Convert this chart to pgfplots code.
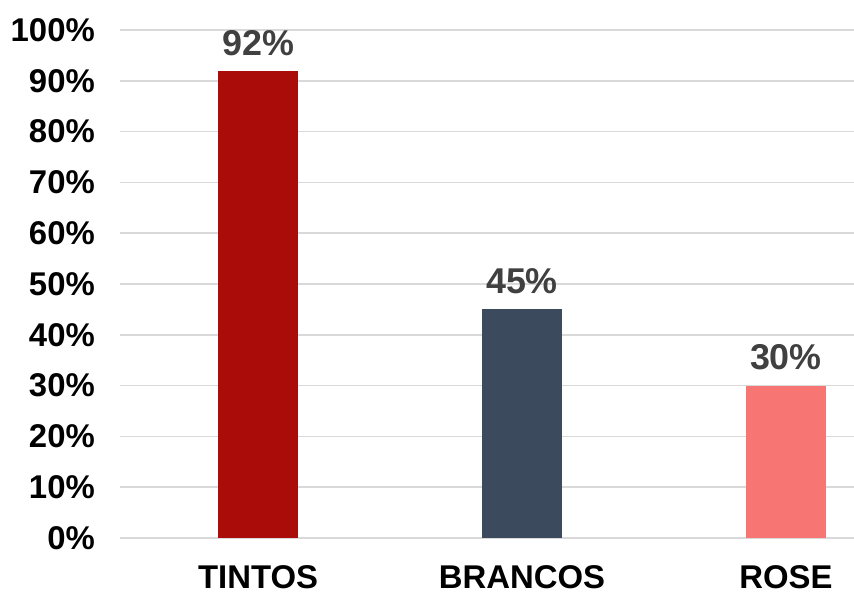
\documentclass[border=0pt]{standalone}
\usepackage{pgfplots}
\pgfplotsset{compat=1.18}
\usepackage{fontspec}
\setmainfont{Liberation Sans}
\definecolor{tinto}{HTML}{AA0C0A}
\definecolor{branco}{HTML}{3C4A5E}
\definecolor{rose}{HTML}{F77674}
\definecolor{gridgray}{HTML}{D9D9D9}
\definecolor{lblgray}{HTML}{404040}
\begin{document}
\begin{tikzpicture}
\begin{axis}[
  scale only axis, width=734bp, height=508bp,
  xmin=-0.523, xmax=2.258, ymin=0, ymax=100,
  /pgf/number format/assume math mode=true,
  axis line style={draw=none},
  tick style={draw=none},
  ytick={0,10,...,100},
  yticklabel={\pgfmathprintnumber{\tick}\%},
  ymajorgrids, grid style={draw=gridgray, line width=1.5bp},
  xtick={0,1,2}, xticklabels={TINTOS,BRANCOS,ROSE},
  ticklabel style={font=\fontsize{33}{33}\selectfont\bfseries, inner sep=0pt},
  yticklabel style={xshift=-25bp},
  xticklabel style={yshift=-27bp},
  nodes near coords={\pgfmathprintnumber{\pgfplotspointmeta}\%},
  nodes near coords style={font=\fontsize{36}{36}\selectfont\bfseries, text=lblgray, inner sep=0pt, anchor=south, yshift=15bp},
  clip=false,
]
\addplot[ybar, bar width=80bp, fill=tinto, draw=none] coordinates {(0,92)};
\addplot[ybar, bar width=80bp, fill=branco, draw=none] coordinates {(1,45)};
\addplot[ybar, bar width=80bp, fill=rose, draw=none] coordinates {(2,30)};
\end{axis}
\pgfresetboundingbox
\path ([xshift=-120bp,yshift=-57bp]current axis.south west) rectangle ([yshift=30bp]current axis.north east);
\end{tikzpicture}
\end{document}
